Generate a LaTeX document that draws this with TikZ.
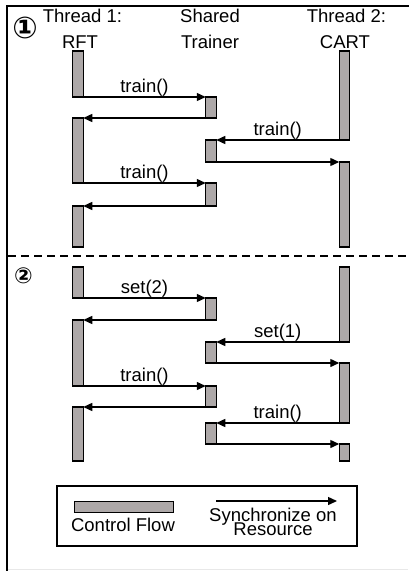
\documentclass[tikz,border=0pt]{standalone}
\usepackage{fontspec}
\setmainfont{Liberation Sans}
\newfontfamily\circfont{DejaVu Sans}
\usetikzlibrary{arrows.meta}
\definecolor{barfill}{HTML}{ADA8A8}
\tikzset{
  x=1pt, y=-1pt,
  bar/.style={draw, fill=barfill, line width=1.4pt, minimum width=10.5pt,
    inner sep=0pt, outer sep=0pt, anchor=north},
  msg/.style={line width=1.4pt, -{Triangle[length=9pt,width=8pt]}},
  lbl/.style={font=\fontsize{18.5}{20}\selectfont, inner sep=0pt, anchor=base},
  num/.style={font=\circfont\bfseries\fontsize{30}{30}\selectfont, inner sep=0pt}
}
\newcommand{\barat}[4]{\node[bar, minimum height=#4pt] (#1) at (#2,#3) {};}
\begin{document}
\begin{tikzpicture}
\useasboundingbox (0,0) rectangle (409,571);
% outer frame
\draw[line width=1.8pt] (7,571) -- (7,6) -- (409,6);
\draw[line width=0.8pt, black!9] (8,569.5) -- (408,569.5);
% separator between the two scenarios
\draw[line width=1.4pt, dash pattern=on 8pt off 5pt] (8,256) -- (409,256);

% headers
\node[lbl] (h1a) at (82.5,22.7) {Thread 1:};
\node[lbl] (h1b) at (80,48) {RFT};
\node[lbl] (h2a) at (210,22.7) {Shared};
\node[lbl] (h2b) at (210,48) {Trainer};
\node[lbl] (h3a) at (346.5,22.7) {Thread 2:};
\node[lbl] (h3b) at (345,48) {CART};

\node[num] (n1) at (25,28) {①};
\node[num, font=\circfont\bfseries\fontsize{22}{22}\selectfont] (n2) at (23.5,276) {②};

% scenario 1
\barat{r1}{78}{51}{46}
\barat{s1}{211}{97}{21}
\barat{r2}{78}{118}{65}
\barat{c1}{344.5}{51}{89}
\barat{s2}{211}{140}{22}
\barat{c2}{344.5}{162}{85}
\barat{s3}{211}{183}{23}
\barat{r3}{78}{206}{41}

\draw[msg] (r1.south east) -- node[lbl, anchor=base, yshift=5pt] (t1) {train()} (s1.north west);
\draw[msg] (s1.south west) -- (r2.north east);
\draw[msg] (c1.south west) -- node[lbl, anchor=base, yshift=5pt] (t2) {train()} (s2.north east);
\draw[msg] (s2.south east) -- (c2.north west);
\draw[msg] (r2.south east) -- node[lbl, anchor=base, yshift=5pt] (t3) {train()} (s3.north west);
\draw[msg] (s3.south west) -- (r3.north east);

% scenario 2
\barat{r4}{78}{267}{31}
\barat{s4}{211}{298}{22}
\barat{r5}{78}{320}{66}
\barat{c3}{344.5}{267}{75}
\barat{s5}{211}{342}{21}
\barat{c4}{344.5}{363}{60}
\barat{s6}{211}{386}{21}
\barat{r6}{78}{407}{54}
\barat{s7}{211}{423}{21}
\barat{c5}{344.5}{444}{17}

\draw[msg] (r4.south east) -- node[lbl, anchor=base, yshift=5pt] (t4) {set(2)} (s4.north west);
\draw[msg] (s4.south west) -- (r5.north east);
\draw[msg] (c3.south west) -- node[lbl, anchor=base, yshift=5pt] (t5) {set(1)} (s5.north east);
\draw[msg] (s5.south east) -- (c4.north west);
\draw[msg] (r5.south east) -- node[lbl, anchor=base, yshift=5pt] (t6) {train()} (s6.north west);
\draw[msg] (s6.south west) -- (r6.north east);
\draw[msg] (c4.south west) -- node[lbl, anchor=base, yshift=5pt] (t7) {train()} (s7.north east);
\draw[msg] (s7.south east) -- (c5.north west);

% legend
\draw[line width=1.1pt] (57,486) rectangle (357,546);
\node[draw, fill=barfill, line width=1.4pt, minimum width=99pt, minimum height=11pt,
  inner sep=0pt, anchor=north west] (lb) at (74,501) {};
\node[lbl] (lt1) at (123,531.7) {Control Flow};
\coordinate (la) at (216,501);
\coordinate (lz) at (337,501);
\draw[msg] (la) -- (lz);
\node[lbl, anchor=north, align=center, font=\fontsize{18.5}{14}\selectfont]
  (lt2) at (273,508) {Synchronize on\\[-4pt]Resource};
\end{tikzpicture}
\end{document}
